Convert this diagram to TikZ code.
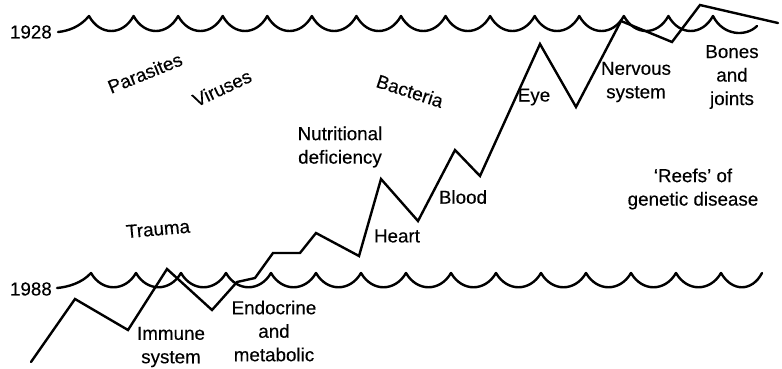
\documentclass[tikz,border=0pt]{standalone}
\usepackage{fontspec}
\setmainfont{Liberation Sans}
\newfontfamily\lblfont[FakeBold=0.3,Ligatures=TeX]{Liberation Sans}
\begin{document}
\begin{tikzpicture}[x=1pt,y=-1pt,
  lbl/.style={font=\lblfont\fontsize{18.8}{23.5}\selectfont, align=center, inner sep=0pt},
  wave/.style={line width=2.4pt, line join=round, line cap=round},
  reef/.style={line width=2.4pt, line join=miter, line cap=round}]
\useasboundingbox (0,0) rectangle (782,368);
% 1928 sea level
\draw[wave] (58,32) .. controls (68,31) and (80,27) .. (89,16)
  \foreach \i in {0,...,13} { .. controls ({89+44.57*\i+11},36) and ({89+44.57*(\i+1)-11},36) .. ({89+44.57*(\i+1)},16) }
  .. controls (723,36) and (746,37) .. (757,26);
% 1988 sea level
\draw[wave] (57,288) .. controls (68,287) and (82,283) .. (91,273)
  \foreach \i in {0,...,13} { .. controls ({91+45*\i+11},292) and ({91+45*(\i+1)-11},292) .. ({91+45*(\i+1)},273) }
  .. controls (732,292) and (752,292) .. (762,273);
% reef outline
\draw[reef] (31,362) -- (75,299) -- (128,330) -- (167,269) -- (212,310) -- (237,282) -- (255,278)
  -- (273,253) -- (300,253) -- (316,233) -- (359,256) -- (381,179) -- (418,221) -- (455,150)
  -- (480,176) -- (540,44) -- (576,107) -- (621,21) -- (672,42) -- (700,5) -- (778,23);
% labels
\node[lbl, anchor=east] (y1928) at (52,32) {1928};
\node[lbl, anchor=east] (y1988) at (52,289) {1988};
\node[lbl, rotate=22] (parasites) at (145,73) {Parasites};
\node[lbl, rotate=25] (viruses) at (222,88) {Viruses};
\node[lbl, rotate=-18] (bacteria) at (410,91) {Bacteria};
\node[lbl, rotate=5] (trauma) at (158,229) {Trauma};
\node[lbl] (nutri) at (340,147) {Nutritional\\deficiency};
\node[lbl] (eye) at (534,97) {Eye};
\node[lbl] (nervous) at (636,82) {Nervous\\system};
\node[lbl] (bones) at (732,77) {Bones\\and\\joints};
\node[lbl] (blood) at (463,197) {Blood};
\node[lbl] (heart) at (397,236) {Heart};
\node[lbl] (reefs) at (693,189) {‘Reefs’ of\\genetic disease};
\node[lbl] (immune) at (171,347) {Immune\\system};
\node[lbl] (endo) at (274,331) {Endocrine\\and\\metabolic};
\end{tikzpicture}
\end{document}
